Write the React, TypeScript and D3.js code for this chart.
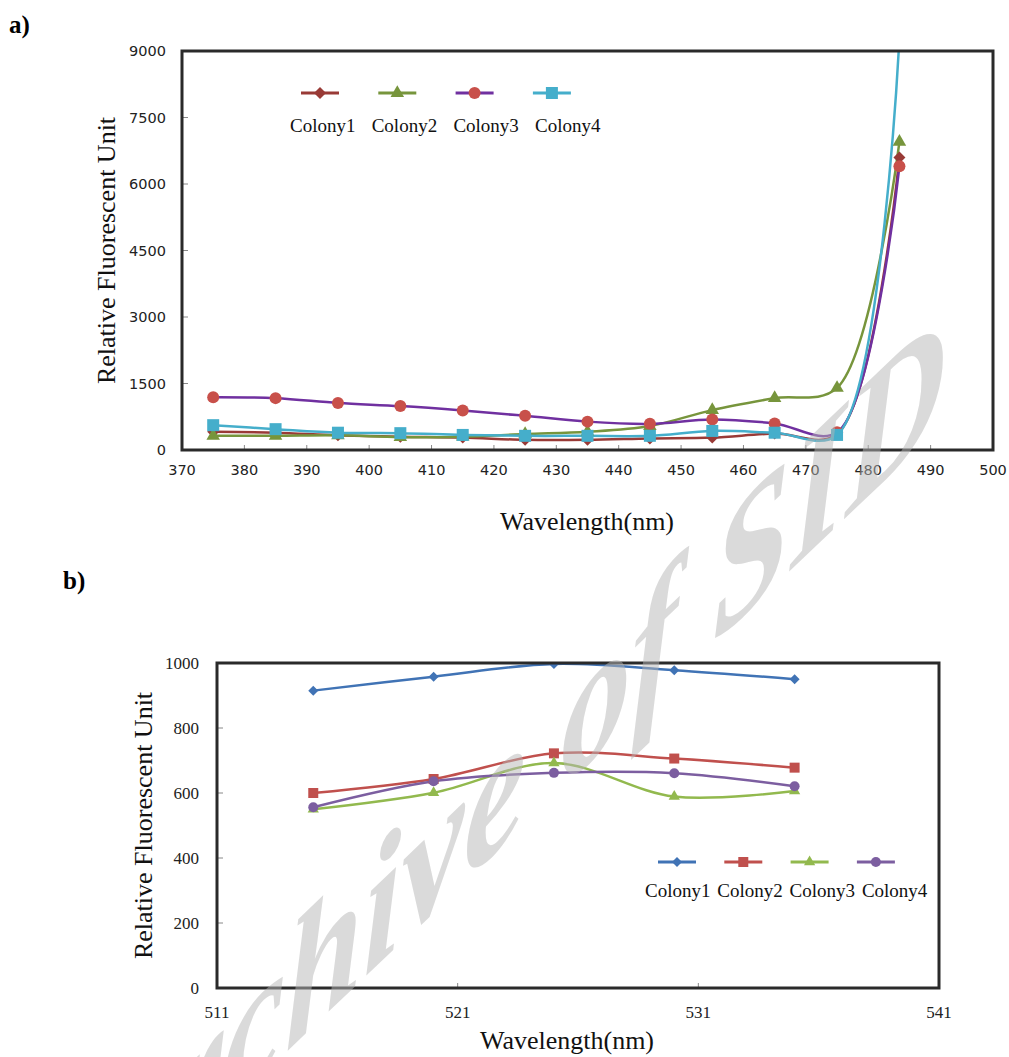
import React, { useRef, useEffect } from 'react';
import * as d3 from 'd3';

const width = 1009;
const height = 1057;

// ---- panel a data ----
const wavelengthA = [375, 385, 395, 405, 415, 425, 435, 445, 455, 465, 475, 485];
const colony1A = [410, 390, 330, 300, 280, 230, 230, 260, 280, 370, 360, 6600];
const colony2A = [320, 320, 330, 290, 300, 360, 410, 540, 900, 1170, 1400, 6950];
const colony3A = [1190, 1170, 1060, 990, 890, 770, 640, 590, 690, 600, 400, 6400];
const colony4A = [560, 470, 390, 380, 340, 320, 320, 320, 430, 390, 340, 9300];
const xTicksA = [370, 380, 390, 400, 410, 420, 430, 440, 450, 460, 470, 480, 490, 500];
const yTicksA = [0, 1500, 3000, 4500, 6000, 7500, 9000];

// ---- panel b data ----
const wavelengthB = [515, 520, 525, 530, 535];
const colony1B = [915, 958, 997, 978, 950];
const colony2B = [600, 643, 722, 706, 678];
const colony3B = [550, 601, 692, 589, 606];
const colony4B = [556, 636, 662, 661, 621];
const xTicksB = [511, 521, 531, 541];
const yTicksB = [0, 200, 400, 600, 800, 1000];

const colonyNames = ['Colony1', 'Colony2', 'Colony3', 'Colony4'];

const lineColorsA = ['#993a36', '#77953c', '#7030a0', '#45aecb'];
const markerColorsA = ['#993a36', '#77953c', '#c8504a', '#45aecb'];
const shapesA = ['diamond', 'triangle', 'circle', 'square'];

const lineColorsB = ['#4073b5', '#c0504d', '#92b94e', '#7c5ea0'];
const shapesB = ['diamond', 'square', 'triangle', 'circle'];

const serif = '"Liberation Serif", "Times New Roman", serif';
const sans = '"DejaVu Sans", Verdana, sans-serif';

const markerPath = (shape, s) => {
    if (shape === 'circle') return d3.symbol(d3.symbolCircle, Math.PI * s * s / 4)();
    if (shape === 'square') return d3.symbol(d3.symbolSquare, s * s)();
    if (shape === 'triangle') return d3.symbol(d3.symbolTriangle, s * s * 0.55)();
    // diamond = square turned 45deg
    const h = s / 2;
    return `M0,${-h}L${h},0L0,${h}L${-h},0Z`;
};

function drawPanel(svg, o) {
    const g = svg.append('g');
    const x = d3.scaleLinear().domain(o.xDomain).range([o.left, o.right]);
    const y = d3.scaleLinear().domain(o.yDomain).range([o.bottom, o.top]);

    const clipId = 'clip-' + o.id;
    svg.append('defs').append('clipPath').attr('id', clipId)
        .append('rect')
        .attr('x', o.left).attr('y', o.top)
        .attr('width', o.right - o.left).attr('height', o.bottom - o.top);

    // ticks (inside)
    g.selectAll('line.xt').data(o.xTicks).enter().append('line')
        .attr('x1', d => x(d)).attr('x2', d => x(d))
        .attr('y1', o.bottom).attr('y2', o.bottom - 5)
        .style('stroke', '#888').style('stroke-width', 1);
    g.selectAll('line.yt').data(o.yTicks).enter().append('line')
        .attr('x1', o.left).attr('x2', o.left + 6)
        .attr('y1', d => y(d)).attr('y2', d => y(d))
        .style('stroke', '#888').style('stroke-width', 1);

    // tick labels
    g.selectAll('text.xl').data(o.xTicks).enter().append('text')
        .attr('x', d => x(d)).attr('y', o.bottom + o.xLabelDy)
        .attr('text-anchor', 'middle')
        .style('font-family', o.tickFont).style('font-size', o.tickSize + 'px')
        .style('fill', '#222')
        .text(d => d);
    g.selectAll('text.yl').data(o.yTicks).enter().append('text')
        .attr('x', o.left - o.yLabelDx).attr('y', d => y(d))
        .attr('dy', '0.35em')
        .attr('text-anchor', 'end')
        .style('font-family', o.tickFont).style('font-size', o.tickSize + 'px')
        .style('fill', '#222')
        .text(d => d);

    // series
    const plot = g.append('g').attr('clip-path', `url(#${clipId})`);
    o.series.forEach((vals, i) => {
        const pts = vals.map((v, j) => [x(o.xs[j]), y(v)]);
        plot.append('path')
            .attr('d', d3.line().curve(d3.curveCatmullRom.alpha(0.5))(pts))
            .style('fill', 'none')
            .style('stroke', o.lineColors[i])
            .style('stroke-width', o.lineWidth);
    });
    o.series.forEach((vals, i) => {
        plot.selectAll(null).data(vals).enter().append('path')
            .attr('transform', (v, j) => `translate(${x(o.xs[j])},${y(v)})`)
            .attr('d', markerPath(o.shapes[i], o.markerSize))
            .style('fill', o.markerColors[i]);
    });

    // frame
    g.append('rect')
        .attr('x', o.left).attr('y', o.top)
        .attr('width', o.right - o.left).attr('height', o.bottom - o.top)
        .style('fill', 'none').style('stroke', '#2a2a2a').style('stroke-width', 3);

    // legend
    const lg = g.append('g');
    colonyNames.forEach((name, i) => {
        const mx = o.legend.x0 + i * o.legend.step;
        lg.append('line')
            .attr('x1', mx - 19).attr('x2', mx + 19)
            .attr('y1', o.legend.y).attr('y2', o.legend.y)
            .style('stroke', o.lineColors[i]).style('stroke-width', o.lineWidth + 0.5);
        lg.append('path')
            .attr('transform', `translate(${mx},${o.legend.y})`)
            .attr('d', markerPath(o.shapes[i], o.markerSize))
            .style('fill', o.markerColors[i]);
        lg.append('text')
            .attr('x', o.legend.tx0 + i * o.legend.tstep).attr('y', o.legend.ty)
            .style('font-family', serif).style('font-size', o.legend.size + 'px')
            .style('fill', '#111')
            .text(name);
    });

    // axis titles
    g.append('text')
        .attr('transform', `translate(${o.yTitleX},${(o.top + o.bottom) / 2}) rotate(-90)`)
        .attr('text-anchor', 'middle')
        .style('font-family', serif).style('font-size', '26px').style('fill', '#111')
        .text('Relative Fluorescent Unit');
    g.append('text')
        .attr('x', o.xTitleX).attr('y', o.xTitleY)
        .attr('text-anchor', 'middle')
        .style('font-family', serif).style('font-size', '26px').style('fill', '#111')
        .text('Wavelength(nm)');

    g.append('text')
        .attr('x', o.tagX).attr('y', o.tagY)
        .style('font-family', serif).style('font-size', '25px').style('font-weight', 'bold')
        .text(o.tag);
}

export default function App() {
    const ref = useRef(null);

    useEffect(() => {
        if (!ref.current) return;
        const svg = d3.select(ref.current);
        svg.selectAll('*').remove();

        drawPanel(svg, {
            id: 'a', tag: 'a)', tagX: 9, tagY: 33,
            left: 182, right: 993, top: 51, bottom: 450,
            xDomain: [370, 500], yDomain: [0, 9000],
            xTicks: xTicksA, yTicks: yTicksA,
            xs: wavelengthA,
            series: [colony1A, colony2A, colony3A, colony4A],
            lineColors: lineColorsA, markerColors: markerColorsA, shapes: shapesA,
            lineWidth: 2.5, markerSize: 12,
            tickFont: sans, tickSize: 14.5, xLabelDy: 25, yLabelDx: 16,
            legend: { x0: 320, step: 77.3, y: 93, tx0: 290, tstep: 81.7, ty: 132, size: 19 },
            yTitleX: 115, xTitleX: 587, xTitleY: 530,
        });

        drawPanel(svg, {
            id: 'b', tag: 'b)', tagX: 63, tagY: 589,
            left: 217, right: 939, top: 663, bottom: 988,
            xDomain: [511, 541], yDomain: [0, 1000],
            xTicks: xTicksB, yTicks: yTicksB,
            xs: wavelengthB,
            series: [colony1B, colony2B, colony3B, colony4B],
            lineColors: lineColorsB, markerColors: lineColorsB, shapes: shapesB,
            lineWidth: 2.5, markerSize: 10,
            tickFont: serif, tickSize: 17, xLabelDy: 30, yLabelDx: 18,
            legend: { x0: 677, step: 66.3, y: 862, tx0: 645, tstep: 72.3, ty: 897, size: 19 },
            yTitleX: 152, xTitleX: 567, xTitleY: 1049,
        });

        // watermark, slanted text laid over the figure
        svg.append('text')
            .attr('transform', 'translate(75,1254) skewY(-43.7) scale(0.8,1)')
            .style('font-family', serif).style('font-size', '175px')
            .style('font-weight', 'bold').style('font-style', 'italic')
            .style('fill', '#b5b5b5').style('fill-opacity', 0.5)
            .text('Archive of SID');
    }, []);

    return (
        <svg ref={ref} width={width} height={height}
            style={{ position: 'absolute', left: 0, top: 0, background: '#fff' }} />
    );
}
